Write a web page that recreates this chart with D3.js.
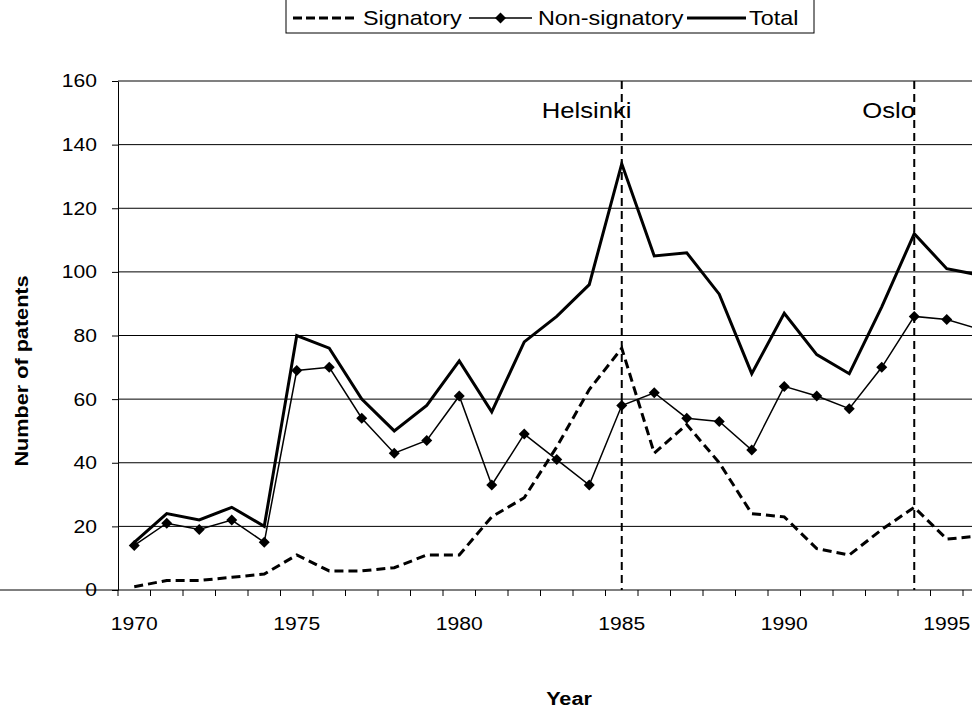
<!DOCTYPE html>
<html>
<head>
<meta charset="utf-8">
<script src="https://cdn.jsdelivr.net/npm/d3@7"></script>
<style>
  html, body { margin: 0; padding: 0; background: #fff; }
  svg { display: block; font-family: "Liberation Sans", Arial, sans-serif; }
</style>
</head>
<body>
<svg id="chart" width="972" height="710"></svg>
<script>
// data (1996 is only partly visible at the right edge)
const years = d3.range(1970, 1997);
const signatory = [1, 3, 3, 4, 5, 11, 6, 6, 7, 11, 11, 23, 29, 45, 63, 76, 43, 52, 40, 24, 23, 13, 11, 19, 26, 16, 17];
const nonSignatory = [14, 21, 19, 22, 15, 69, 70, 54, 43, 47, 61, 33, 49, 41, 33, 58, 62, 54, 53, 44, 64, 61, 57, 70, 86, 85, 82];
const total = [15, 24, 22, 26, 20, 80, 76, 60, 50, 58, 72, 56, 78, 86, 96, 134, 105, 106, 93, 68, 87, 74, 68, 89, 112, 101, 99];
const yTicks = [0, 20, 40, 60, 80, 100, 120, 140, 160];
const xLabels = [1970, 1975, 1980, 1985, 1990, 1995];
const events = [{ year: 1985, name: 'Helsinki', dx: -80 }, { year: 1994, name: 'Oslo', dx: -52 }];

const svg = d3.select('#chart');
const stretch = 'scale(1.14,1)'; // text in the source is rendered a bit wide

const x = d3.scaleBand().domain(years).range([118, 118 + 27 * 32.5]);
const bw = x.bandwidth();
const cx = yr => x(yr) + bw / 2;
const y = d3.scaleLinear().domain([0, 160]).range([590, 81]);

// gridlines, top one is the grey plot border
svg.append('g')
  .selectAll('line')
  .data(yTicks.filter(d => d > 0))
  .enter()
  .append('line')
  .attr('x1', 118)
  .attr('x2', 1000)
  .attr('y1', d => y(d))
  .attr('y2', d => y(d))
  .attr('stroke', d => (d === 160 ? '#808080' : '#000'))
  .attr('stroke-width', d => (d === 160 ? 2 : 1));

// y axis
const yAxis = svg.append('g')
  .attr('transform', 'translate(118,0)')
  .call(d3.axisLeft(y).tickValues(yTicks).tickSize(6).tickSizeOuter(0));
yAxis.select('.domain').attr('stroke', '#000');
yAxis.selectAll('.tick line').attr('stroke', '#000');
yAxis.selectAll('.tick text')
  .attr('x', null)
  .attr('transform', `translate(-21,0) ${stretch}`)
  .attr('font-size', 18.5)
  .attr('font-family', '"Liberation Sans", Arial, sans-serif')
  .attr('fill', '#000');

// x axis: labels at category centres, ticks at category boundaries
const xAxis = svg.append('g')
  .attr('transform', 'translate(0,590)')
  .call(d3.axisBottom(x).tickValues(xLabels).tickSize(0).tickPadding(27).tickSizeOuter(0));
xAxis.select('.domain').attr('stroke', '#000').attr('d', 'M0,0H1000');
xAxis.selectAll('.tick text')
  .attr('transform', stretch)
  .attr('font-size', 18.5)
  .attr('font-family', '"Liberation Sans", Arial, sans-serif')
  .attr('fill', '#000');

const bounds = years.map(d => x(d)).concat([x(1996) + bw]);
svg.append('g')
  .selectAll('line')
  .data(bounds)
  .enter()
  .append('line')
  .attr('x1', d => d)
  .attr('x2', d => d)
  .attr('y1', 590)
  .attr('y2', 596)
  .attr('stroke', '#000');

// event markers
events.forEach(ev => {
  svg.append('line')
    .attr('x1', cx(ev.year))
    .attr('x2', cx(ev.year))
    .attr('y1', y(160))
    .attr('y2', y(0))
    .attr('stroke', '#000')
    .attr('stroke-width', 2)
    .attr('stroke-dasharray', '8,5');
  svg.append('text')
    .attr('transform', `translate(${cx(ev.year) + ev.dx},118) ${stretch}`)
    .attr('font-size', 22.5)
    .attr('fill', '#000')
    .text(ev.name);
});

// series
const line = vals => d3.line()
  .x((d, i) => cx(years[i]))
  .y(d => y(d))(vals);

svg.append('path')
  .attr('d', line(signatory))
  .attr('fill', 'none')
  .attr('stroke', '#000')
  .attr('stroke-width', 3)
  .attr('stroke-dasharray', '9,5');

svg.append('path')
  .attr('d', line(total))
  .attr('fill', 'none')
  .attr('stroke', '#000')
  .attr('stroke-width', 3);

svg.append('path')
  .attr('d', line(nonSignatory))
  .attr('fill', 'none')
  .attr('stroke', '#000')
  .attr('stroke-width', 1.5);

const diamond = 'M0,-5.5L5.5,0L0,5.5L-5.5,0Z';
svg.append('g')
  .selectAll('path')
  .data(nonSignatory)
  .enter()
  .append('path')
  .attr('d', diamond)
  .attr('transform', (d, i) => `translate(${cx(years[i])},${y(d)})`)
  .attr('fill', '#000');

// axis titles
svg.append('text')
  .attr('transform', `translate(28,371) rotate(-90) ${stretch}`)
  .attr('text-anchor', 'middle')
  .attr('font-size', 19)
  .attr('font-weight', 'bold')
  .text('Number of patents');

svg.append('text')
  .attr('transform', `translate(569,705) ${stretch}`)
  .attr('text-anchor', 'middle')
  .attr('font-size', 19)
  .attr('font-weight', 'bold')
  .text('Year');

// legend
const legend = svg.append('g');
legend.append('rect')
  .attr('x', 286)
  .attr('y', -10)
  .attr('width', 528)
  .attr('height', 43)
  .attr('fill', '#fff')
  .attr('stroke', '#000');

const legendItems = [
  { name: 'Signatory', x1: 293, x2: 357, tx: 363, dash: '9,4', w: 3, marker: false },
  { name: 'Non-signatory', x1: 469, x2: 532, tx: 538, dash: null, w: 1.5, marker: true },
  { name: 'Total', x1: 687, x2: 746, tx: 749, dash: null, w: 3, marker: false },
];
legendItems.forEach(it => {
  legend.append('line')
    .attr('x1', it.x1)
    .attr('x2', it.x2)
    .attr('y1', 18)
    .attr('y2', 18)
    .attr('stroke', '#000')
    .attr('stroke-width', it.w)
    .attr('stroke-dasharray', it.dash);
  if (it.marker) {
    legend.append('path')
      .attr('d', diamond)
      .attr('transform', `translate(${(it.x1 + it.x2) / 2},18)`)
      .attr('fill', '#000');
  }
  legend.append('text')
    .attr('transform', `translate(${it.tx},25) ${stretch}`)
    .attr('font-size', 20.5)
    .attr('fill', '#000')
    .text(it.name);
});
</script>
</body>
</html>
